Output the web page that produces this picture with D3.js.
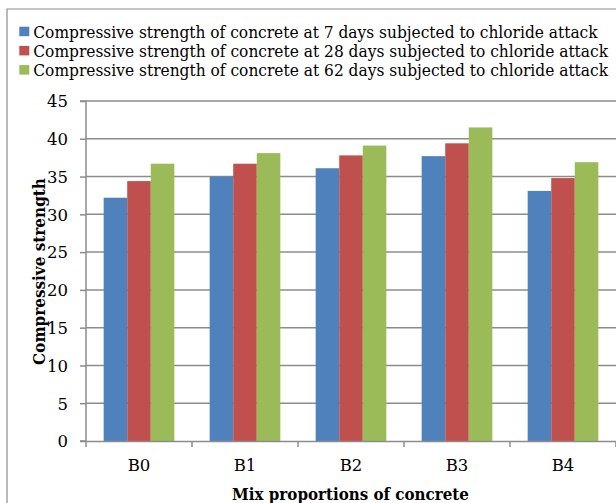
<!DOCTYPE html>
<html><head><meta charset="utf-8">
<script src="https://cdn.jsdelivr.net/npm/d3@7"></script>
<style>body{margin:0;background:#fff}svg{display:block}text{font-family:"DejaVu Serif","Liberation Serif",serif}</style>
</head><body>
<svg id="c" width="616" height="503"></svg>
<script>
const categories = ["B0","B1","B2","B3","B4"];
const seriesNames = [
  "Compressive strength of concrete at 7 days subjected to chloride attack",
  "Compressive strength of concrete at 28 days subjected to chloride attack",
  "Compressive strength of concrete at 62 days subjected to chloride attack"
];
const days7 = [32.2, 35.0, 36.1, 37.7, 33.1];
const days28 = [34.4, 36.7, 37.8, 39.4, 34.8];
const days62 = [36.7, 38.1, 39.1, 41.5, 36.9];
const yTicks = [0,5,10,15,20,25,30,35,40,45];
const colors = ["#4f81bd","#c0504d","#9bbb59"];

(function(){
const svg = d3.select("#c");
const series = [days7, days28, days62];
const gray = "#8c8c8c";

function fitText(sel, target){
  const w = sel.node().getComputedTextLength();
  return w > 0 ? target / w : 1;
}

svg.append("path").attr("d","M7,503 V9 H616").attr("fill","none").attr("stroke",gray).attr("stroke-width",1.2);

const pl = 86, pr = 616, pt = 101, pb = 441;
const x = d3.scaleBand().domain(categories).range([pl, pr]).paddingInner(0).paddingOuter(0);
const y = d3.scaleLinear().domain([0,45]).range([pb, pt]);
const gap = 1.5;
const bw = x.bandwidth()/(3+gap);
const xs = d3.scaleBand().domain([0,1,2]).range([bw*gap/2, bw*gap/2 + 3*bw]);

svg.append("g").selectAll("line").data(yTicks.filter(d=>d>0)).join("line")
  .attr("x1",pl).attr("x2",pr).attr("y1",d=>y(d)).attr("y2",d=>y(d))
  .attr("stroke",gray).attr("stroke-width",1.5);

const g = svg.append("g");
series.forEach((vals,i)=>{
  g.append("g").selectAll("rect").data(vals).join("rect")
    .attr("x",(d,j)=>x(categories[j])+xs(i))
    .attr("width",xs.bandwidth())
    .attr("y",d=>y(d)).attr("height",d=>y(0)-y(d))
    .attr("fill",colors[i]);
});

const ya = svg.append("g").attr("transform",`translate(${pl},0)`)
  .call(d3.axisLeft(y).tickValues(yTicks).tickSize(6).tickPadding(12));
ya.select(".domain").attr("stroke",gray).attr("stroke-width",1.5).attr("d",`M-6,${pt}H0V${pb}H-6`);
ya.selectAll(".tick line").attr("stroke",gray).attr("stroke-width",1.5);
ya.selectAll(".tick text").attr("font-size",16.5).attr("fill","#000").attr("font-family","DejaVu Serif").attr("dy","0.35em");

const xa = svg.append("g").attr("transform",`translate(0,${pb})`)
  .call(d3.axisBottom(x).tickSize(0).tickPadding(0));
xa.select(".domain").attr("stroke",gray).attr("stroke-width",1.5);
xa.selectAll(".tick text").attr("font-size",16.5).attr("fill","#000").attr("font-family","DejaVu Serif").attr("dy",null).attr("y",30);
const bounds = categories.map(c=>x(c)).concat([pr]);
xa.append("g").selectAll("line").data(bounds).join("line")
  .attr("x1",d=>d).attr("x2",d=>d).attr("y1",0).attr("y2",6)
  .attr("stroke",gray).attr("stroke-width",1.5);

const yt = svg.append("text").attr("text-anchor","middle")
  .attr("font-size",16.5).attr("font-weight","bold").text("Compressive strength");
yt.attr("transform",`translate(45,271.5) rotate(-90) scale(${fitText(yt,187)},1)`);
const xt = svg.append("text").attr("text-anchor","middle")
  .attr("font-size",16.5).attr("font-weight","bold").text("Mix proportions of concrete");
xt.attr("transform",`translate(350.5,499.5) scale(${fitText(xt,237)},1)`);

const lg = svg.append("g");
const lens = [565, 575, 575];
seriesNames.forEach((n,i)=>{
  const base = 37.7 + i*19.2;
  lg.append("rect").attr("x",19.3).attr("y",base-11).attr("width",10).attr("height",9.5).attr("fill",colors[i]);
  const t = lg.append("text").attr("x",0).attr("y",0).attr("font-size",17).attr("fill","#000")
    .attr("font-family","Liberation Serif").text(n);
  t.attr("transform",`translate(33.3,${base}) scale(${fitText(t,lens[i])},1)`);
});
})();
</script>
</body></html>
